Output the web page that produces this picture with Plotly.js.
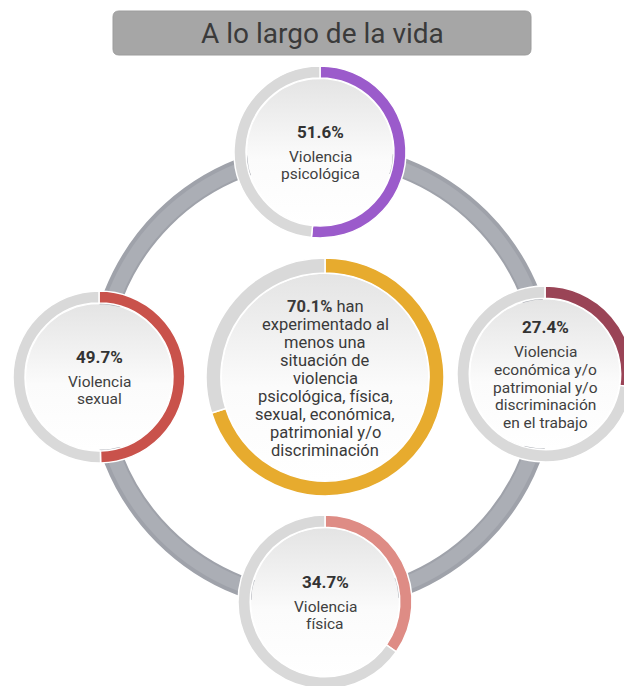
<!DOCTYPE html>
<html>
<head>
<meta charset="utf-8">
<script src="https://cdn.plot.ly/plotly-3.0.1.min.js"></script>
<style>
  html, body { margin: 0; padding: 0; overflow: hidden; background: #ffffff; }
  #chart { width: 650px; height: 700px; }
</style>
</head>
<body>
<div id="chart"></div>
<script>
// ---------- DATA ----------
const chartTitle = 'A lo largo de la vida';
const categories = [
  'Violencia psicológica',
  'Violencia sexual',
  'Violencia económica y/o patrimonial y/o discriminación en el trabajo',
  'Violencia física',
  'Al menos una situación de violencia'
];
const values = [51.6, 49.7, 27.4, 34.7, 70.1];
const labelLines = [
  ['Violencia', 'psicológica'],
  ['Violencia', 'sexual'],
  ['Violencia', 'económica y/o', 'patrimonial y/o', 'discriminación', 'en el trabajo'],
  ['Violencia', 'física'],
  ['han', 'experimentado al', 'menos una', 'situación de', 'violencia',
   'psicológica, física,', 'sexual, económica,', 'patrimonial y/o', 'discriminación']
];
const colors = ['#9b5bcb', '#c9524b', '#9a4456', '#de8c85', '#e7ab2e'];
const trackColor = '#d9d9d9';

// ---------- LAYOUT GEOMETRY (pixels) ----------
const W = 650, H = 700;
const geom = [
  {cx: 320, cy: 152, r: 86, hole: 0.86},
  {cx: 99,  cy: 377, r: 86, hole: 0.86},
  {cx: 545, cy: 374, r: 88, hole: 0.86},
  {cx: 325, cy: 602, r: 87, hole: 0.86},
  {cx: 325, cy: 377, r: 119, hole: 0.875}
];
const bigRing = {cx: 322, cy: 377, r: 224, w: 18};

const fontFam = 'Roboto, "Open Sans", sans-serif';
const traces = [];
const annotations = [];

// inner discs (decoration)
geom.forEach(g => {
  const rr = g.r * g.hole - 1;
  const xs = [], ys = [];
  for (let k = 0; k <= 120; k++) {
    const a = 2 * Math.PI * k / 120;
    xs.push(g.cx + rr * Math.cos(a));
    ys.push(g.cy + rr * Math.sin(a));
  }
  traces.push({
    type: 'scatter', mode: 'lines', x: xs, y: ys, fill: 'toself',
    line: {width: 0, color: 'rgba(0,0,0,0)'},
    fillcolor: '#f3f3f3',
    fillgradient: {type: 'vertical', colorscale: [[0, '#ffffff'], [0.45, '#fbfbfb'], [1, '#e4e4e4']]},
    hoverinfo: 'skip', showlegend: false
  });
});

// donuts
values.forEach((v, i) => {
  const g = geom[i];
  traces.push({
    type: 'pie',
    values: [v, 100 - v],
    labels: [categories[i], 'resto'],
    marker: {colors: [colors[i], trackColor], line: {color: '#ffffff', width: 1.5}},
    hole: g.hole,
    sort: false,
    direction: 'clockwise',
    rotation: 0,
    textinfo: 'none',
    hoverinfo: 'none',
    showlegend: false,
    domain: {
      x: [(g.cx - g.r) / W, (g.cx + g.r) / W],
      y: [1 - (g.cy + g.r) / H, 1 - (g.cy - g.r) / H]
    }
  });
});

// texts for the four small donuts
for (let i = 0; i < 4; i++) {
  const g = geom[i];
  const lines = labelLines[i];
  const step = 17.8, gap = 25;
  const total = gap + (lines.length - 1) * step;
  const y0 = g.cy + 1 - total / 2;
  annotations.push({
    x: g.cx, y: y0, xref: 'x', yref: 'y', showarrow: false,
    xanchor: 'center', yanchor: 'middle',
    text: '<b>' + values[i].toFixed(1) + '%</b>',
    font: {family: fontFam, size: 17, color: '#333333'}
  });
  lines.forEach((ln, j) => {
    annotations.push({
      x: g.cx, y: y0 + gap + j * step, xref: 'x', yref: 'y', showarrow: false,
      xanchor: 'center', yanchor: 'middle', text: ln,
      font: {family: fontFam, size: 15.5, color: '#404040'}
    });
  });
}

// center text
{
  const g = geom[4];
  const lines = labelLines[4];
  const step = 17.9;
  const y0 = g.cy + 1.5 - (lines.length - 1) * step / 2;
  lines.forEach((ln, j) => {
    const txt = j === 0 ? '<b>' + values[4].toFixed(1) + '%</b> ' + ln : ln;
    annotations.push({
      x: g.cx, y: y0 + j * step, xref: 'x', yref: 'y', showarrow: false,
      xanchor: 'center', yanchor: 'middle', text: txt,
      font: {family: fontFam, size: 16.5, color: '#3a3a3a'}
    });
  });
}

// title
annotations.push({
  x: 322, y: 33, xref: 'x', yref: 'y', showarrow: false,
  xanchor: 'center', yanchor: 'middle', text: chartTitle,
  font: {family: fontFam, size: 28, color: '#3a3a3a'}
});

// title box path (rounded rect)
const bx0 = 113, bx1 = 531, by0 = 11, by1 = 55, br = 6;
const boxPath = `M ${bx0+br},${by0} L ${bx1-br},${by0} Q ${bx1},${by0} ${bx1},${by0+br} ` +
  `L ${bx1},${by1-br} Q ${bx1},${by1} ${bx1-br},${by1} L ${bx0+br},${by1} ` +
  `Q ${bx0},${by1} ${bx0},${by1-br} L ${bx0},${by0+br} Q ${bx0},${by0} ${bx0+br},${by0} Z`;

const shapes = [
  {type: 'path', path: boxPath, xref: 'x', yref: 'y', fillcolor: '#a6a6a6',
   line: {color: '#9c9c9c', width: 1}, layer: 'below'},
  {type: 'circle', xref: 'x', yref: 'y', layer: 'below',
   x0: bigRing.cx - bigRing.r, x1: bigRing.cx + bigRing.r,
   y0: bigRing.cy - bigRing.r, y1: bigRing.cy + bigRing.r,
   line: {color: '#9fa2aa', width: bigRing.w + 2}},
  {type: 'circle', xref: 'x', yref: 'y', layer: 'below',
   x0: bigRing.cx - bigRing.r + 1, x1: bigRing.cx + bigRing.r - 1,
   y0: bigRing.cy - bigRing.r + 1, y1: bigRing.cy + bigRing.r - 1,
   line: {color: '#abaeb5', width: bigRing.w - 4}}
];

const layout = {
  width: W, height: H,
  margin: {l: 0, r: 0, t: 0, b: 0},
  paper_bgcolor: '#ffffff', plot_bgcolor: 'rgba(0,0,0,0)',
  xaxis: {range: [0, W], visible: false, fixedrange: true},
  yaxis: {range: [H, 0], visible: false, fixedrange: true},
  showlegend: false,
  shapes: shapes,
  annotations: annotations
};

Plotly.newPlot('chart', traces, layout, {staticPlot: true, displayModeBar: false});
</script>
</body>
</html>
